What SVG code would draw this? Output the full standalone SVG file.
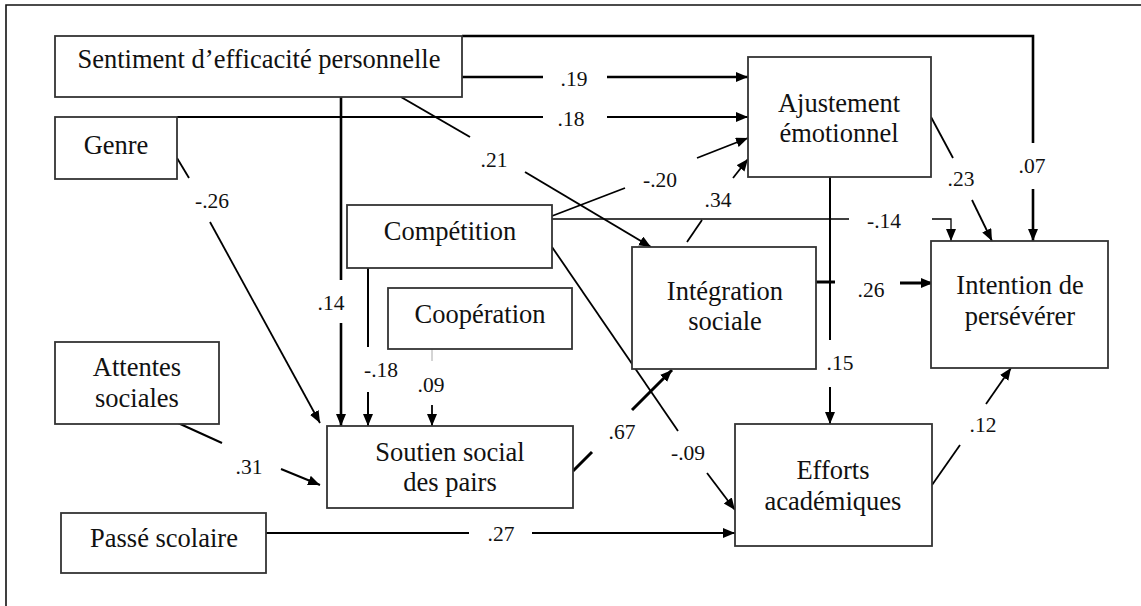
<svg xmlns="http://www.w3.org/2000/svg" width="1141" height="606" viewBox="0 0 1141 606">
<defs>
<marker id="ah" markerUnits="userSpaceOnUse" markerWidth="14" markerHeight="12" refX="12" refY="5" orient="auto" viewBox="0 0 14 12">
<path d="M0,0 L12,5 L0,10 z" fill="#000"/>
</marker>
<style>
.box{fill:#fff;stroke:#333;stroke-width:1.8}
.t{font-family:"Liberation Serif","Times New Roman",serif;font-size:26.5px;fill:#111;text-anchor:middle}
.l{font-family:"Liberation Serif","Times New Roman",serif;font-size:21.5px;fill:#111;text-anchor:middle}
.c{fill:none;stroke:#000;stroke-width:1.8}
.k{stroke-width:2.6}
.a{marker-end:url(#ah)}
</style>
</defs>
<rect width="1141" height="606" fill="#fff"/>
<path d="M6,606 V5 H1141" fill="none" stroke="#111" stroke-width="1.6"/>

<g id="connectors">
<path class="c k" d="M462,77 H543"/><path class="c k a" d="M607,77 H748"/>
<path class="c" d="M177,117 H543"/><path class="c a" d="M607,117 H748"/>
<path class="c k" d="M462,36 H1033 V143"/><path class="c k a" d="M1033,189 V241"/>
<path class="c k" d="M341,97 V280"/><path class="c k a" d="M341,323 V426"/>
<path class="c" style="stroke-width:2" d="M401,97 L470,137"/><path class="c a" style="stroke-width:2" d="M525,172 L651,247"/>
<path class="c" d="M177,158 L189,178"/><path class="c a" d="M210,222 L320,423"/>
<path class="c" d="M552,216 L625,188"/><path class="c a" d="M697,158 L748,138"/>
<path class="c" d="M687,242 L702,220"/><path class="c a" d="M733,178 L748,159"/>
<path class="c" style="stroke-width:1.3" d="M552,219 H849"/><path class="c a" style="stroke-width:1.3" d="M932,219 H951 V241"/>
<path class="c" d="M931,117 L953,158"/><path class="c a" d="M972,200 L992,241"/>
<path class="c" style="stroke-width:2" d="M830,177 V340"/><path class="c a" style="stroke-width:2" d="M830,387 V424"/>
<path class="c" style="stroke-width:3" d="M816,282 H835"/><path class="c a" style="stroke-width:3" d="M900,283 H933"/>
<path class="c" style="stroke-width:2" d="M368,268 V347"/><path class="c a" style="stroke-width:2" d="M368,392 V426"/>
<path class="c" style="stroke:#aaa;stroke-width:1" d="M432,349 V361"/><path class="c a" d="M432,405 V426"/>
<path class="c" style="stroke-width:2" d="M178,423 L222,443"/><path class="c a" style="stroke-width:2" d="M281,469 L320,485"/>
<path class="c" d="M266,533 H469"/><path class="c a" d="M532,533 H735"/>
<path class="c" style="stroke-width:3" d="M573,471 L592,452"/><path class="c a" style="stroke-width:3" d="M632,410 L672,370"/>
<path class="c" d="M552,247 L678,431"/><path class="c a" d="M707,473 L735,510"/>
<path class="c" d="M932,485 L960,445"/><path class="c a" d="M986,404 L1011,368"/>
<text class="l" x="574" y="86">.19</text>
<text class="l" x="571" y="126">.18</text>
<text class="l" x="1032" y="173">.07</text>
<text class="l" x="331" y="310">.14</text>
<text class="l" x="494" y="167">.21</text>
<text class="l" x="212" y="208">-.26</text>
<text class="l" x="660" y="187">-.20</text>
<text class="l" x="718" y="207">.34</text>
<text class="l" x="884" y="228">-.14</text>
<text class="l" x="961" y="186">.23</text>
<text class="l" x="840" y="370">.15</text>
<text class="l" x="871" y="297">.26</text>
<text class="l" x="381" y="377">-.18</text>
<text class="l" x="431" y="392">.09</text>
<text class="l" x="249" y="474">.31</text>
<text class="l" x="501" y="541">.27</text>
<text class="l" x="622" y="439">.67</text>
<text class="l" x="688" y="460">-.09</text>
<text class="l" x="983" y="432">.12</text>
</g>

<g id="sentiment"><rect class="box" x="55" y="36" width="407" height="61"/><text class="t" x="259" y="68">Sentiment d’efficacité personnelle</text></g>
<g id="genre"><rect class="box" x="55" y="117" width="122" height="62"/><text class="t" x="116" y="154">Genre</text></g>
<g id="competition"><rect class="box" x="347" y="205" width="205" height="63"/><text class="t" x="450" y="240">Compétition</text></g>
<g id="cooperation"><rect class="box" x="388" y="288" width="184" height="61"/><text class="t" x="480" y="323">Coopération</text></g>
<g id="attentes"><rect class="box" x="55" y="342" width="164" height="82"/><text class="t" x="137" y="376">Attentes</text><text class="t" x="137" y="407">sociales</text></g>
<g id="soutien"><rect class="box" x="327" y="426" width="246" height="82"/><text class="t" x="450" y="461">Soutien social</text><text class="t" x="450" y="491">des pairs</text></g>
<g id="passe"><rect class="box" x="61" y="513" width="205" height="60"/><text class="t" x="164" y="547">Passé scolaire</text></g>
<g id="ajustement"><rect class="box" x="748" y="57" width="183" height="120"/><text class="t" x="839" y="112">Ajustement</text><text class="t" x="839" y="142">émotionnel</text></g>
<g id="integration"><rect class="box" x="632" y="247" width="184" height="122"/><text class="t" x="725" y="300">Intégration</text><text class="t" x="725" y="330">sociale</text></g>
<g id="intention"><rect class="box" x="931" y="241" width="177" height="127"/><text class="t" x="1020" y="294">Intention de</text><text class="t" x="1020" y="325">persévérer</text></g>
<g id="efforts"><rect class="box" x="735" y="424" width="197" height="122"/><text class="t" x="833" y="479">Efforts</text><text class="t" x="833" y="510">académiques</text></g>
</svg>
